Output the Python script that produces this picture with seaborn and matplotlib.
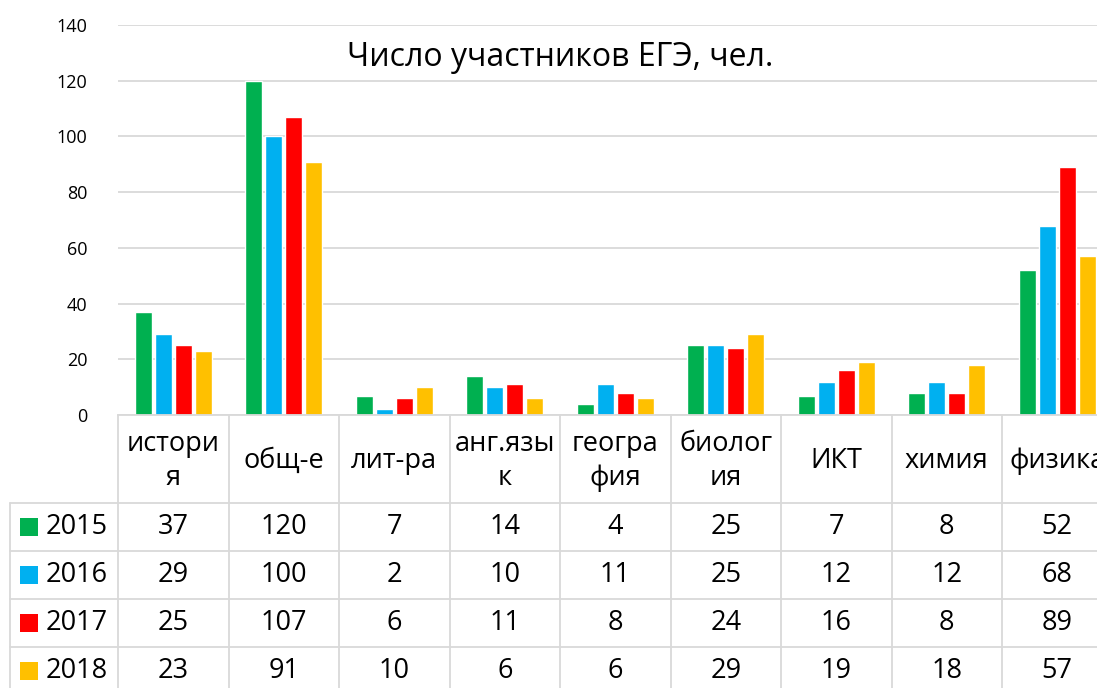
import matplotlib
matplotlib.use("Agg")
import matplotlib.pyplot as plt
import seaborn as sns
import pandas as pd
from matplotlib.transforms import blended_transform_factory
from matplotlib.patches import Rectangle
from matplotlib.lines import Line2D

# ---- data ----
categories = ["истори\nя", "общ-е", "лит-ра", "анг.язы\nк", "геогра\nфия",
              "биолог\nия", "ИКТ", "химия", "физика"]
years = ["2015", "2016", "2017", "2018"]
v2015 = [37, 120, 7, 14, 4, 25, 7, 8, 52]
v2016 = [29, 100, 2, 10, 11, 25, 12, 12, 68]
v2017 = [25, 107, 6, 11, 8, 24, 16, 8, 89]
v2018 = [23, 91, 10, 6, 6, 29, 19, 18, 57]
series = [v2015, v2016, v2017, v2018]
colors = ["#00B050", "#00B0F0", "#FF0000", "#FFC000"]
title = "Число участников ЕГЭ, чел."
yticks = [0, 20, 40, 60, 80, 100, 120, 140]

rows = []
for y, vals in zip(years, series):
    for c, v in zip(categories, vals):
        rows.append({"subject": c, "year": y, "value": v})
df = pd.DataFrame(rows)

sns.set_theme(style="white")
plt.rcParams["font.family"] = ["Open Sans", "DejaVu Sans"]

W, H = 1097, 688
fig = plt.figure(figsize=(W / 100, H / 100), dpi=100)
fig.patch.set_facecolor("white")
left_px, right_px, top_px, bot_px = 118, 1112.5, 25, 415
ax = fig.add_axes([left_px / W, 1 - bot_px / H, (right_px - left_px) / W, (bot_px - top_px) / H])

sns.barplot(data=df, x="subject", y="value", hue="year", order=categories,
            hue_order=years, palette=colors, width=0.72, gap=0.15,
            saturation=1, legend=False, ax=ax, errorbar=None)

ax.set_xlim(-0.5, len(categories) - 0.5)
ax.set_ylim(0, 140)
ax.set_yticks(yticks)
ax.set_xticks([])
ax.set_xlabel("")
ax.set_ylabel("")
ax.yaxis.grid(True, color="#d9d9d9", lw=1.3)
ax.set_axisbelow(True)
for s in ["top", "right", "left"]:
    ax.spines[s].set_visible(False)
ax.spines["bottom"].set_color("#d9d9d9")
ax.spines["bottom"].set_linewidth(1.3)
ax.tick_params(axis="y", length=0, pad=22, labelsize=13, labelcolor="black")

fig.text(0.511, 1 - 57 / H, title, ha="center", va="center", fontsize=23, color="black")

# ---- data table ----
fy = lambda p: 1 - p / H
fx = lambda p: p / W
tr = blended_transform_factory(ax.transData, fig.transFigure)
lc = "#d9d9d9"
lw = 1.3
row_tops = [503, 551, 599, 647]
row_h = 48
ncat = len(categories)

# vertical lines at category boundaries
for i in range(ncat + 1):
    fig.add_artist(Line2D([i - 0.5, i - 0.5], [fy(415), fy(700)], transform=tr,
                          color=lc, lw=lw, clip_on=False))
# left border of row label column
fig.add_artist(Line2D([fx(10), fx(10)], [fy(503), fy(700)], transform=fig.transFigure,
                      color=lc, lw=lw))
# horizontal lines
for yt in row_tops + [695]:
    fig.add_artist(Line2D([fx(10), 1.02], [fy(yt), fy(yt)], transform=fig.transFigure,
                          color=lc, lw=lw))

fs = 19.5
# header labels
for i, c in enumerate(categories):
    fig.text(i, fy(461), c, transform=tr, ha="center", va="center",
             fontsize=fs, linespacing=1.3, color="black")

# rows
for r, (y, vals, col) in enumerate(zip(years, series, colors)):
    cy = row_tops[r] + row_h / 2
    fig.add_artist(Rectangle((fx(20), fy(cy + 9)), fx(18), 18 / H,
                             transform=fig.transFigure, facecolor=col, edgecolor="none"))
    fig.text(fx(46), fy(cy), y, ha="left", va="center", fontsize=fs, color="black")
    for i, v in enumerate(vals):
        fig.text(i, fy(cy), str(v), transform=tr, ha="center", va="center",
                 fontsize=fs, color="black")

fig.savefig("out.png", dpi=100, facecolor="white")
